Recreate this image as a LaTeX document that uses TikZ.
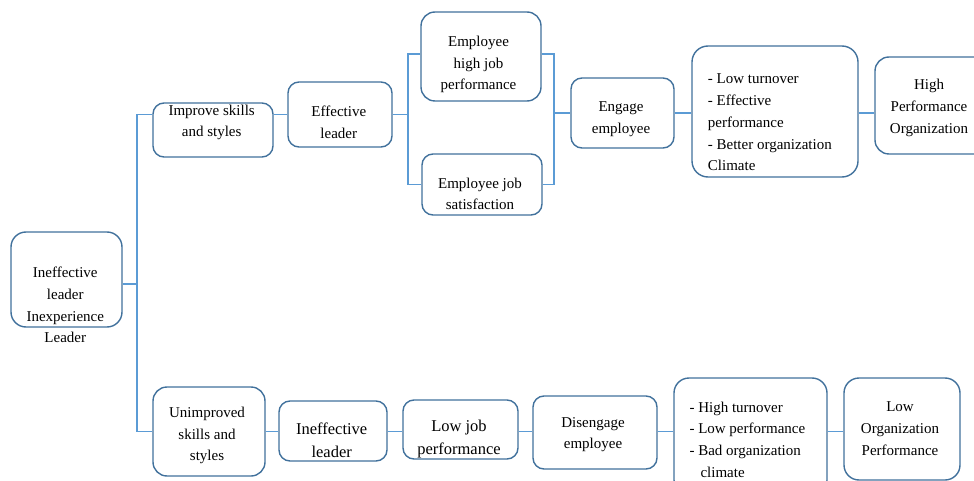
\documentclass[tikz,border=0pt]{standalone}
\usepackage{fontspec}
\setmainfont{Liberation Serif}
\definecolor{boxc}{HTML}{41719C}
\definecolor{linec}{HTML}{5B9BD5}
\begin{document}
\begin{tikzpicture}[x=1pt,y=-1pt,
  box/.style={draw=boxc, line width=1.4pt, rounded corners=11pt, inner sep=0pt, fill=white},
  txt/.style={inner sep=0pt, align=center, font=\fontsize{15}{21.7}\selectfont},
  txtl/.style={inner sep=0pt, align=left, anchor=west, font=\fontsize{15}{21.7}\selectfont},
  big/.style={inner sep=0pt, align=center, font=\fontsize{16.5}{23}\selectfont},
  conn/.style={draw=linec, line width=1.1pt}]
\path[use as bounding box] (0,0) rectangle (974,481);
\clip (0,0) rectangle (974,481);
% boxes
\node[box, rounded corners=15pt, minimum width=111pt, minimum height=95pt] (ineff) at (66.5,279.5) {};
\node[box, minimum width=120pt, minimum height=54pt] (improve) at (213,130) {};
\node[box, minimum width=104pt, minimum height=65pt] (effective) at (340,114.5) {};
\node[box, rounded corners=14pt, minimum width=120pt, minimum height=89pt] (highjob) at (481,56.5) {};
\node[box, minimum width=120pt, minimum height=61pt] (satis) at (482,184.5) {};
\node[box, minimum width=103pt, minimum height=70pt] (engage) at (622.5,113) {};
\node[box, rounded corners=16pt, minimum width=166pt, minimum height=131pt] (lowturn) at (775,111.5) {};
\node[box, rounded corners=14pt, minimum width=120pt, minimum height=97pt] (hpo) at (935,105.5) {};
\node[box, rounded corners=14pt, minimum width=112pt, minimum height=89pt] (unimp) at (209,431.5) {};
\node[box, minimum width=108pt, minimum height=60pt] (ineff2) at (333,431) {};
\node[box, minimum width=115pt, minimum height=59pt] (lowjob) at (460.5,429.5) {};
\node[box, minimum width=124pt, minimum height=73pt] (diseng) at (595,432.5) {};
\node[box, rounded corners=15pt, minimum width=153pt, minimum height=117pt] (highturn) at (750.5,436.5) {};
\node[box, rounded corners=15pt, minimum width=116pt, minimum height=102pt] (loworg) at (902,429) {};
% junction points
\coordinate (trunk) at (137,284);
\coordinate (b1) at (408,114.5);
\coordinate (b2) at (554,113);
% connectors
\draw[conn] (ineff.east |- trunk) -- (trunk);
\draw[conn] (improve.west |- effective.west) -| (trunk) |- (unimp.west);
\draw[conn] (improve.east |- effective.west) -- (effective.west);
\draw[conn] (effective.east) -- (b1);
\draw[conn] ([yshift=2.5pt]highjob.west) -| (b1) |- (satis.west);
\draw[conn] ([yshift=2.5pt]highjob.east) -| (b2) |- (satis.east);
\draw[conn] (b2) -- (engage.west);
\draw[conn] (engage.east) -- (engage.east -| lowturn.west);
\draw[conn] (engage.east -| lowturn.east) -- (engage.east -| hpo.west);
\draw[conn] (unimp.east) -- (unimp.east -| ineff2.west);
\draw[conn] (unimp.east -| ineff2.east) -- (unimp.east -| lowjob.west);
\draw[conn] (unimp.east -| lowjob.east) -- (unimp.east -| diseng.west);
\draw[conn] (unimp.east -| diseng.east) -- (unimp.east -| highturn.west);
\draw[conn] (unimp.east -| highturn.east) -- (unimp.east -| loworg.west);
% texts
\node[txt] (t1) at (65.3,305) {Ineffective\\leader\\Inexperience\\Leader};
\node[txt] (t2) at (211.7,122.5) {Improve skills\\and styles};
\node[txt] (t3) at (338.8,122) {Effective\\leader};
\node[txt] (t4) at (478.5,64.5) {Employee\\high job\\performance};
\node[txt] (t5) at (480,194) {Employee job\\satisfaction};
\node[txt] (t6) at (621,119) {Engage\\employee};
\node[txtl] (t7) at (707.7,122.5) {- Low turnover\\- Effective\\performance\\- Better organization\\Climate};
\node[txt] (t8) at (929,108) {High\\Performance\\Organization};
\node[txt] (t9) at (207,435.5) {Unimproved\\skills and\\styles};
\node[big] (t10) at (331.7,440.5) {Ineffective\\leader};
\node[big] (t11) at (459,439.5) {Low job\\performance};
\node[txt] (t12) at (593,434.5) {Disengage\\employee};
\node[txtl] (t13) at (689.3,439.5) {- High turnover\\- Low performance\\- Bad organization\\\hspace*{11pt}climate};
\node[txt] (t14) at (900,428.5) {Low\\Organization\\Performance};
\end{tikzpicture}
\end{document}
